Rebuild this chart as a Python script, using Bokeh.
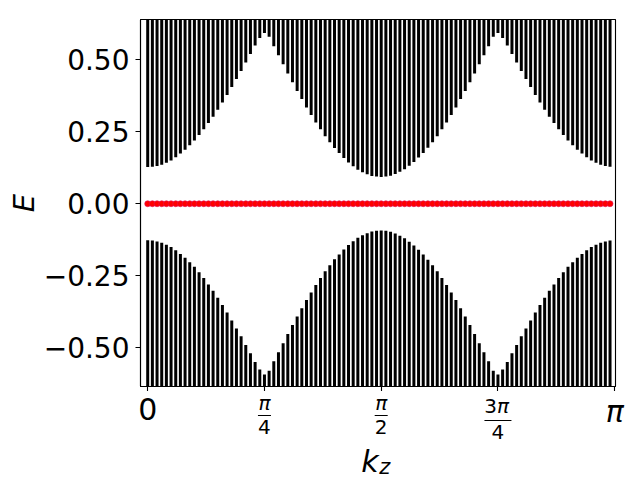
import math
from bokeh.plotting import figure
from bokeh.layouts import column, row
from bokeh.models import Range1d, FixedTicker, ColumnDataSource
from bokeh.core.properties import value
from bokeh.embed import file_html
from bokeh.resources import INLINE

# ---- data ----
n_k = 100
kz = [i * math.pi / n_k for i in range(n_k)]
# lower edge of the upper band (= |upper edge| of the lower band), one value per k point
gap = [0.127, 0.128, 0.131, 0.135, 0.142, 0.150, 0.161, 0.174, 0.187, 0.203,
       0.219, 0.238, 0.258, 0.280, 0.302, 0.326, 0.351, 0.377, 0.405, 0.433,
       0.460, 0.490, 0.519, 0.549, 0.575, 0.592, 0.579, 0.546, 0.515, 0.484,
       0.452, 0.421, 0.391, 0.363, 0.334, 0.308, 0.282, 0.258, 0.234, 0.213,
       0.193, 0.176, 0.159, 0.143, 0.130, 0.118, 0.109, 0.102, 0.096, 0.094,
       0.093, 0.094, 0.097, 0.103, 0.111, 0.120, 0.132, 0.145, 0.160, 0.176,
       0.194, 0.213, 0.234, 0.258, 0.282, 0.308, 0.334, 0.363, 0.391, 0.421,
       0.452, 0.484, 0.515, 0.546, 0.579, 0.592, 0.575, 0.549, 0.519, 0.490,
       0.460, 0.433, 0.405, 0.377, 0.351, 0.326, 0.302, 0.280, 0.258, 0.238,
       0.219, 0.203, 0.187, 0.174, 0.161, 0.150, 0.142, 0.135, 0.131, 0.128]
band_edge = 0.8          # bands continue past the visible window
zero_modes = [0.0] * n_k

ytick_vals = [-0.5, -0.25, 0.0, 0.25, 0.5]
ytick_text = ["\u22120.50", "\u22120.25", "0.00", "0.25", "0.50"]
xtick_vals = [0.0, math.pi / 4, math.pi / 2, 3 * math.pi / 4, math.pi]
# tick label pieces: upright prefix, italic part, denominator
xtick_pre = ["0", "", "", "3", ""]
xtick_ital = ["", "\u03c0", "\u03c0", "\u03c0", "\u03c0"]
xtick_den = ["", "4", "2", "4", ""]

FONT = "DejaVu Sans"
W, H = 640, 480
LEFT, RIGHT, TOP = 140, 25, 19
FRAME_BOTTOM = 386
MAIN_H = 391          # main figure: frame from y=19 to y=386, ticks below
XR = Range1d(-0.0485, 3.147)
PXU = (W - LEFT - RIGHT) / (XR.end - XR.start)   # px per x unit


def dx(px):
    return px / PXU


src = ColumnDataSource(dict(
    k=kz,
    up_bot=gap,
    up_top=[band_edge] * n_k,
    lo_top=[-g for g in gap],
    lo_bot=[-band_edge] * n_k,
    zero=zero_modes,
))

p = figure(width=W, height=MAIN_H, x_range=XR, y_range=Range1d(-0.634, 0.639),
           min_border_left=LEFT, min_border_right=RIGHT,
           min_border_top=TOP, min_border_bottom=MAIN_H - FRAME_BOTTOM,
           toolbar_location=None, output_backend="svg")

p.segment(x0="k", y0="up_bot", x1="k", y1="up_top", source=src,
          line_color="black", line_width=3, line_cap="butt")
p.segment(x0="k", y0="lo_bot", x1="k", y1="lo_top", source=src,
          line_color="black", line_width=3, line_cap="butt")
p.scatter(x="k", y="zero", source=src, size=6, fill_color="#ff0000",
          line_color="#e0105a", line_width=0.6)

p.grid.visible = False
p.outline_line_color = "black"
p.outline_line_width = 1.1
p.background_fill_color = "white"
p.border_fill_color = "white"

# y axis
ya = p.yaxis[0]
ya.ticker = FixedTicker(ticks=ytick_vals)
ya.major_label_overrides = {v: t for v, t in zip(ytick_vals, ytick_text)}
ya.major_label_text_font = FONT
ya.major_label_text_font_size = "28px"
ya.major_label_text_color = "black"
ya.major_label_standoff = 6
ya.major_tick_out = 5
ya.major_tick_in = 0
ya.major_tick_line_width = 1.1
ya.major_tick_line_color = "black"
ya.minor_tick_line_color = None
ya.axis_line_width = 1.1
ya.axis_line_color = "black"
ya.axis_label = "E"
ya.axis_label_text_font = FONT
ya.axis_label_text_font_style = "italic"
ya.axis_label_text_font_size = "29px"
ya.axis_label_text_color = "black"
ya.axis_label_standoff = 0

# x axis: the ticks; its labels are set in the strip below
xa = p.xaxis[0]
xa.ticker = FixedTicker(ticks=xtick_vals)
xa.major_label_overrides = {v: "" for v in xtick_vals}
xa.major_label_text_font_size = "0px"
xa.major_label_standoff = 0
xa.major_tick_out = 5
xa.major_tick_in = 0
xa.major_tick_line_width = 1.1
xa.major_tick_line_color = "black"
xa.minor_tick_line_color = None
xa.axis_line_width = 1.1
xa.axis_line_color = "black"

# strip under the plot holding the x tick labels and the x title
# (same x scale as the plot, spanning the full width; y in page pixels)
q = figure(width=W, height=H - MAIN_H,
           x_range=Range1d(XR.start - dx(LEFT), XR.end + dx(RIGHT)),
           y_range=Range1d(H, MAIN_H),
           min_border_left=0, min_border_right=0,
           min_border_top=0, min_border_bottom=0,
           x_axis_type=None, y_axis_type=None,
           toolbar_location=None, output_backend="svg")
q.grid.visible = False
q.outline_line_color = None
q.background_fill_color = "white"
q.border_fill_color = "white"

single_x, single_t, single_style, single_y = [], [], [], []
num_x, num_t, num_y, num_align = [], [], [], []
pre_x, pre_t, pre_y = [], [], []
den_x, den_t, den_y = [], [], []
bar_x0, bar_x1, bar_y = [], [], []
for v, pre, it, den in zip(xtick_vals, xtick_pre, xtick_ital, xtick_den):
    if den == "":
        single_x.append(v)
        single_t.append(pre + it)
        single_style.append("italic" if it else "normal")
        single_y.append(411.0 if it else 408.5)
        continue
    tall = pre != ""
    ny = 405.5 if tall else 402.8
    by = 420.0 if tall else 415.0
    dy = 431.8 if tall else 426.5
    half = 13.5 if tall else 6.5
    if pre:
        pre_x.append(v - dx(1.0)); pre_t.append(pre); pre_y.append(ny)
        num_x.append(v - dx(1.0)); num_align.append("left")
    else:
        num_x.append(v); num_align.append("center")
    num_t.append(it); num_y.append(ny)
    bar_x0.append(v - dx(half)); bar_x1.append(v + dx(half)); bar_y.append(by)
    den_x.append(v); den_t.append(den); den_y.append(dy)

q.text(x=single_x, y=single_y, text=single_t,
       text_font=value(FONT), text_font_size="30px",
       text_font_style=single_style, text_color="black",
       text_align="center", text_baseline="middle")
q.text(x=num_x, y=num_y, text=num_t, text_font=value(FONT),
       text_font_size="20px", text_font_style="italic", text_color="black",
       text_align=num_align, text_baseline="middle")
q.text(x=pre_x, y=pre_y, text=pre_t, text_font=value(FONT),
       text_font_size="20px", text_color="black",
       text_align="right", text_baseline="middle")
q.segment(x0=bar_x0, y0=bar_y, x1=bar_x1, y1=bar_y,
          line_color="black", line_width=1.1)
q.text(x=den_x, y=den_y, text=den_t, text_font=value(FONT),
       text_font_size="20px", text_color="black",
       text_align="center", text_baseline="middle")

# x axis title k_z
mid = (xtick_vals[0] + xtick_vals[-1]) / 2
q.text(x=[mid - dx(2.5)], y=[460.6], text=["k"], text_font=value(FONT),
       text_font_size="30px", text_font_style="italic", text_color="black",
       text_align="right", text_baseline="middle")
q.text(x=[mid - dx(2.0)], y=[466.7], text=["z"], text_font=value(FONT),
       text_font_size="21px", text_font_style="italic", text_color="black",
       text_align="left", text_baseline="middle")

layout = column(p, row(q), spacing=0)
open("out.html", "w").write(file_html(layout, INLINE))
